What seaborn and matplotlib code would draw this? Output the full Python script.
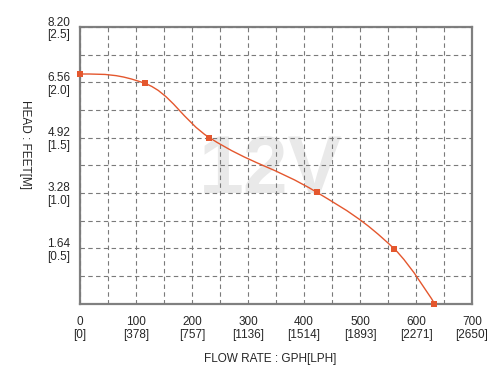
import matplotlib
matplotlib.use("Agg")
import matplotlib.pyplot as plt
import numpy as np
import pandas as pd
import seaborn as sns
from matplotlib.path import Path
from matplotlib.patches import PathPatch

# pump curve (flow in GPH, head in metres)
flow_gph = [0, 116, 231, 423, 561, 633]
head_m = [2.075, 1.99, 1.50, 1.005, 0.495, 0.0]

x_ticks = [0, 100, 200, 300, 400, 500, 600, 700]
x_labels = ["0\n[0]", "100\n[378]", "200\n[757]", "300\n[1136]", "400\n[1514]",
            "500\n[1893]", "600\n[2271]", "700\n[2650]"]
y_ticks = [0.5, 1.0, 1.5, 2.0, 2.5]
y_labels = ["1.64\n[0.5]", "3.28\n[1.0]", "4.92\n[1.5]", "6.56\n[2.0]", "8.20\n[2.5]"]

CURVE = "#e4572e"


def spline_path(x, y, smoothing=1.5):
    # bezier smoothing through the points (drawing only)
    n = len(x)
    denom = smoothing + 1
    left = [None] * n
    right = [None] * n
    for i in range(1, n - 1):
        lx = (smoothing * x[i] + x[i - 1]) / denom
        ly = (smoothing * y[i] + y[i - 1]) / denom
        rx = (smoothing * x[i] + x[i + 1]) / denom
        ry = (smoothing * y[i] + y[i + 1]) / denom
        corr = (ry - ly) * (rx - x[i]) / (rx - lx) + y[i] - ry
        ly += corr
        ry += corr
        if ly > max(y[i - 1], y[i]):
            ly = max(y[i - 1], y[i])
            ry = 2 * y[i] - ly
        elif ly < min(y[i - 1], y[i]):
            ly = min(y[i - 1], y[i])
            ry = 2 * y[i] - ly
        if ry > max(y[i + 1], y[i]):
            ry = max(y[i + 1], y[i])
            ly = 2 * y[i] - ry
        elif ry < min(y[i + 1], y[i]):
            ry = min(y[i + 1], y[i])
            ly = 2 * y[i] - ry
        left[i] = (lx, ly)
        right[i] = (rx, ry)
    # flat start at shut-off head
    right[0] = (x[0] + (x[1] - x[0]) / denom, y[0])
    verts = [(x[0], y[0])]
    codes = [Path.MOVETO]
    for i in range(1, n):
        c1 = right[i - 1] or (x[i - 1], y[i - 1])
        c2 = left[i] or (x[i], y[i])
        verts += [c1, c2, (x[i], y[i])]
        codes += [Path.CURVE4] * 3
    return Path(verts, codes)


sns.set_style("white")
plt.rcParams["font.family"] = ["Liberation Sans", "DejaVu Sans"]

fig = plt.figure(figsize=(5.04, 3.82), dpi=100)
ax = fig.add_axes([80 / 504, 78.5 / 382, 392 / 504, 276.5 / 382])

df = pd.DataFrame({"flow": flow_gph, "head": head_m})

# watermark
ax.text(341, 1.0, "12V", fontsize=58, fontweight="bold", color="#e9e9e9",
        ha="center", va="baseline", zorder=0)

ax.add_patch(PathPatch(spline_path(flow_gph, head_m), facecolor="none",
                       edgecolor=CURVE, lw=1.0, zorder=3))
sns.scatterplot(data=df, x="flow", y="head", marker="s", s=14, color=CURVE,
                edgecolor=CURVE, linewidth=0, ax=ax, zorder=4, clip_on=False)

ax.set_xlim(0, 700)
ax.set_ylim(0, 2.5)
ax.set_xticks(x_ticks)
ax.set_xticklabels(x_labels, fontsize=8.5, linespacing=1.1)
ax.set_xticks(np.arange(50, 700, 50), minor=True)
ax.set_yticks(y_ticks)
ax.set_yticklabels(y_labels, fontsize=8.5, linespacing=1.1)
ax.set_yticks(np.arange(0.25, 2.5, 0.25), minor=True)
ax.tick_params(axis="both", which="both", length=0)
ax.tick_params(axis="x", pad=9)
ax.tick_params(axis="y", pad=7)
ax.grid(True, which="both", color="#7a7a7a", linestyle=(0, (4, 3)), lw=0.8, zorder=1)
ax.set_axisbelow(False)
for s in ax.spines.values():
    s.set_color("#808080")
    s.set_linewidth(1.6)
    s.set_zorder(2)

ax.set_xlabel("")
ax.set_ylabel("")
fig.text(270 / 504, 1 - 359 / 382, "FLOW RATE : GPH[LPH]", fontsize=8.5,
         ha="center", va="center")
fig.text(25 / 504, 1 - 144 / 382, "HEAD : FEET[M]", fontsize=8.5, rotation=270,
         ha="center", va="center")

fig.savefig("out.png", dpi=100)
